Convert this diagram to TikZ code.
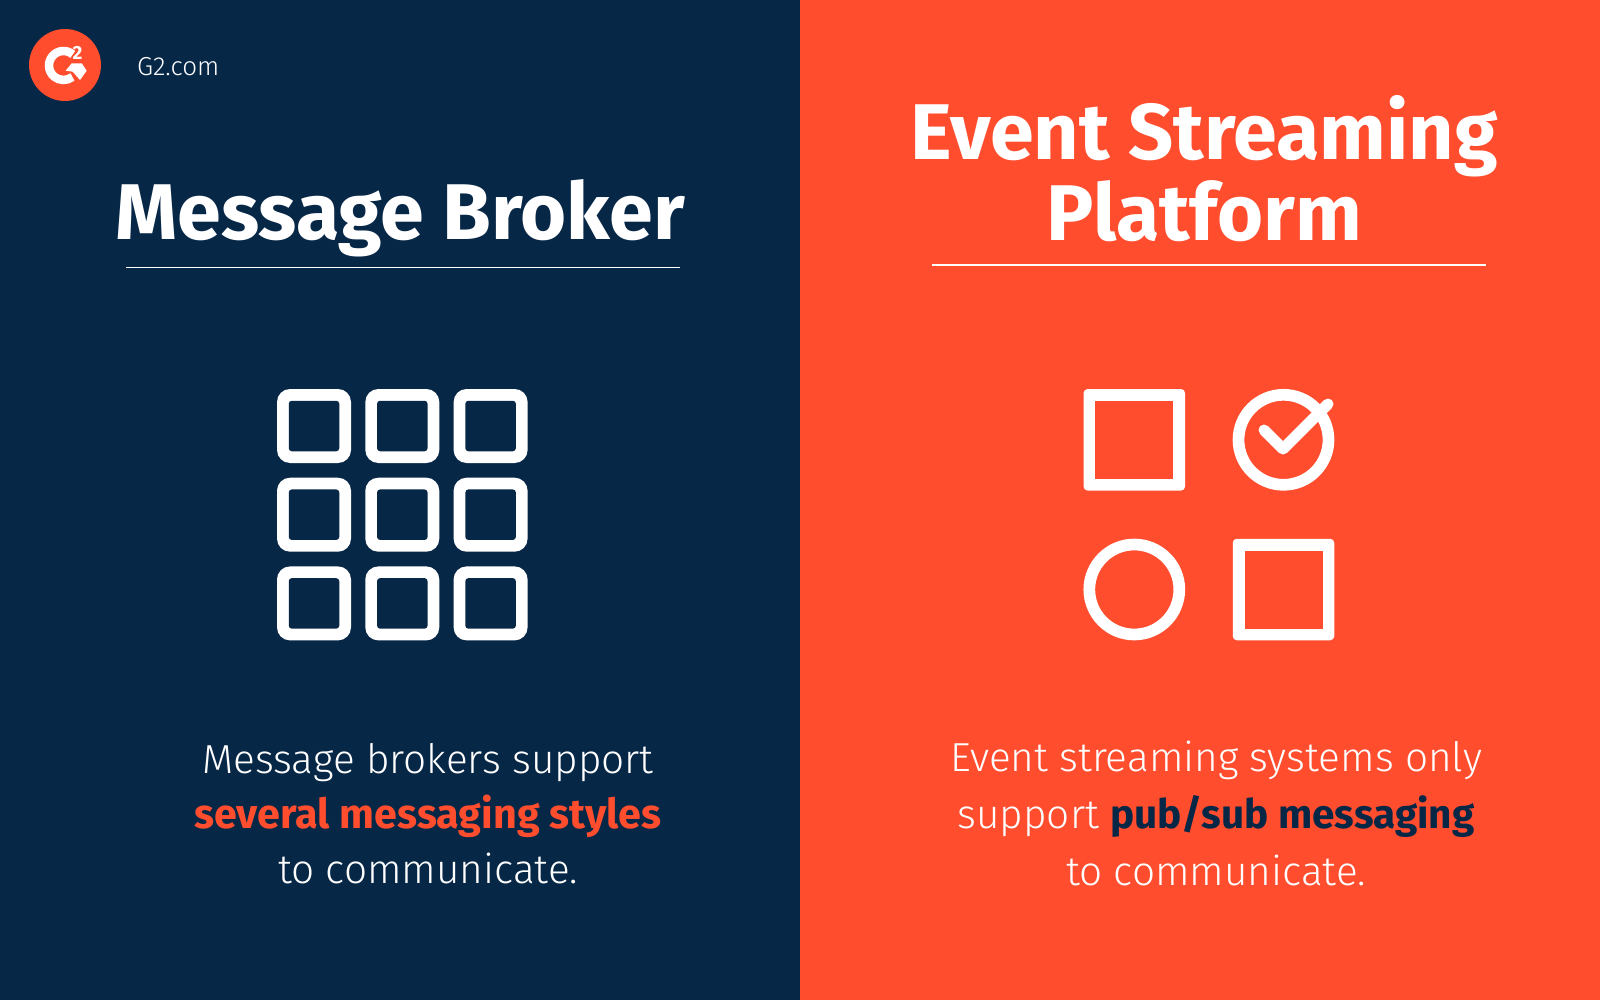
\documentclass[tikz,border=0pt]{standalone}
\usepackage{fontspec}
\setmainfont{Fira Sans}
\usetikzlibrary{positioning}
\definecolor{navy}{HTML}{072747}
\definecolor{flame}{HTML}{FF4D2E}
\tikzset{
  heading/.style={text=white,font=\fontsize{79}{81}\selectfont\bfseries,align=center,inner sep=0pt},
  body/.style={text=white,font=\fontsize{40.5}{55}\selectfont\fontspec{Fira Sans Light},align=center,inner sep=0pt},
  rule/.style={white,line width=1.6pt},
  cell/.style={fill=white,rounded corners=13pt,minimum size=74pt,inner sep=0pt,outer sep=0pt},
  cellhole/.style={fill=navy,rounded corners=3pt,minimum size=50.5pt,inner sep=0pt},
  tile/.style={fill=white,rounded corners=4pt,minimum size=101.5pt,inner sep=0pt,outer sep=0pt},
  tilehole/.style={fill=flame,minimum size=78pt,inner sep=0pt},
  ring/.style={circle,draw=white,line width=11.7pt,minimum size=90pt,inner sep=0pt,outer sep=0pt}
}
\begin{document}
\begin{tikzpicture}[x=1pt,y=-1pt]
\useasboundingbox (0,0) rectangle (1600,1000);
\fill[navy] (0,0) rectangle (800,1000);
\fill[flame] (800,0) rectangle (1600,1000);
% logo
\node[circle,fill=flame,minimum size=72pt,inner sep=0pt] (logo) at (65,65) {};
\coordinate (gmid) at (63.5,65.5);
\draw[white,line width=8.5pt] ([shift={(-50:14.5)}]gmid) arc (-50:-308:14.5);
\fill[white] (65.7,70.7) -- (71.7,63.3) -- (81.7,63.3) -- (86.7,70.7) -- (80,80) -- (72.7,71.7) -- cycle;
\node[text=white,font=\fontsize{19}{19}\selectfont\bfseries,inner sep=0pt] (two) at (77.5,53) {2};
\node[text=white,font=\fontsize{26}{26}\selectfont\fontspec{Fira Sans Light},anchor=west,inner sep=0pt] (site) at (137,67) {G2.com};
% left panel
\node[heading] (brokertitle) at (400,218.5) {Message Broker};
\coordinate (ruleAa) at (126,267.5);
\coordinate (ruleAb) at (680,267.5);
\draw[rule] (ruleAa) -- (ruleAb);
\foreach \row in {0,1,2}
  \foreach \col in {0,1,2}{
    \node[cell] (cell\row\col) at ({314+88.3*\col},{426+88.7*\row}) {};
    \node[cellhole] at (cell\row\col) {};
  }
\node[body] (brokertext) at (428,813.5) {Message brokers support\\
  {\color{flame}\fontspec{Fira Sans}\fontsize{41.3}{55}\selectfont\bfseries several messaging styles}\\
  to communicate.};
% right panel
\node[heading] (platformtitle) at (1204,169) {Event Streaming\\Platform};
\coordinate (ruleBa) at (932,265);
\coordinate (ruleBb) at (1486,265);
\draw[rule] (ruleBa) -- (ruleBb);
\node[tile] (tilea) at (1134.3,439.8) {};
\node[tilehole] at (tilea) {};
\node[ring] (ringa) at (1283.5,439.8) {};
\node[ring] (ringb) at (1134.3,589.5) {};
\node[tile] (tileb) at (1283.5,589.5) {};
\node[tilehole] at (tileb) {};
\coordinate (ticka) at (1264,430);
\coordinate (tickb) at (1283,449);
\coordinate (tickc) at (1328,404);
\draw[white,line width=11pt,line cap=round,line join=round] (ticka) -- (tickb) -- (tickc);
\node[body] (platformtext) at (1216,813) {Event streaming systems only\\[2pt]
  support {\color{navy}\fontspec{Fira Sans}\bfseries pub/sub messaging}\\[2pt]
  to communicate.};
\end{tikzpicture}
\end{document}
